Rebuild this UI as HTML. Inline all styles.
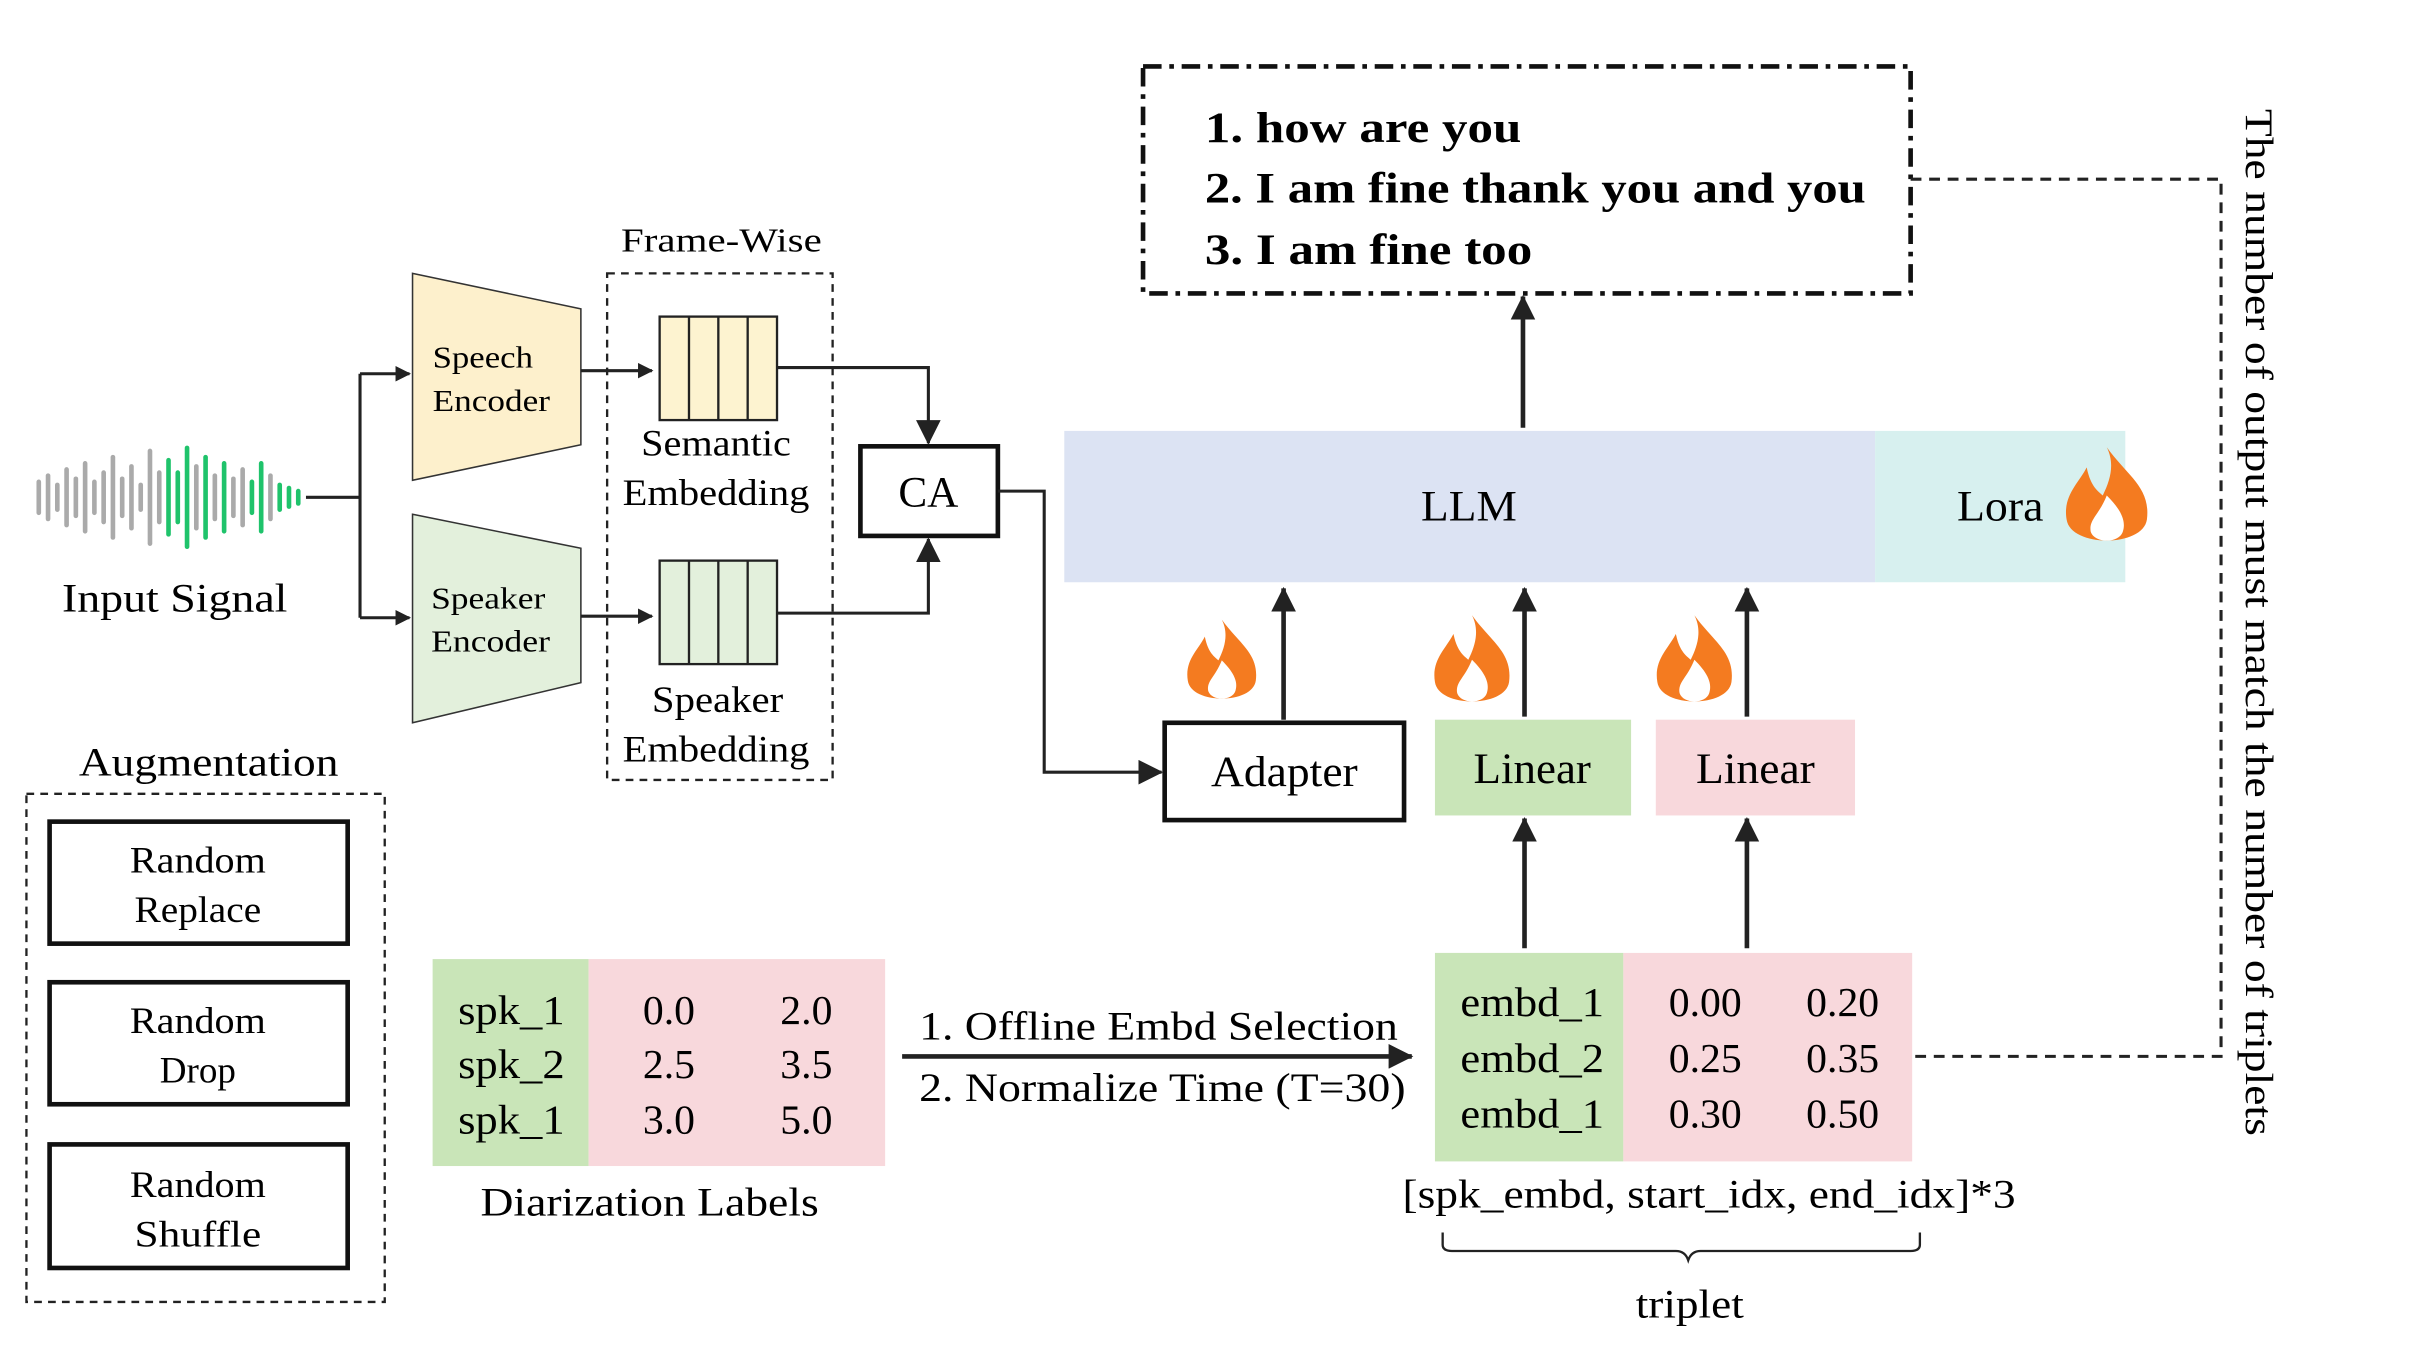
<!DOCTYPE html>
<html><head><meta charset="utf-8"><style>
html,body{margin:0;padding:0;background:#fff;}
svg{display:block;}
text{font-family:"Liberation Serif",serif;fill:#000;}
</style></head><body>
<svg width="2422" height="1356" viewBox="0 0 1568 878" xmlns="http://www.w3.org/2000/svg">
<defs>
<marker id="a" markerWidth="10" markerHeight="10" refX="9" refY="5" orient="auto" markerUnits="userSpaceOnUse"><path d="M0,0 L10,5 L0,10 z" fill="#222"/></marker>
<marker id="b" markerWidth="16" markerHeight="16" refX="15" refY="8" orient="auto" markerUnits="userSpaceOnUse"><path d="M0,0 L16,8 L0,16 z" fill="#222"/></marker>
<g id="flame"><path d="M0,-28 C10,-14 22,-8 20,8 C18,22 -18,22 -20,8 C-22,-4 -14,-10 -10,-18 C-8,-8 -4,-6 -2,-4 C2,-12 4,-20 0,-28 z" fill="#f47b20"/><path d="M0,-4 C6,2 10,8 8,14 C6,20 -6,20 -8,14 C-9,8 -4,6 0,-4 z" fill="#fff"/></g>
</defs>
<g stroke-width="3" stroke-linecap="round">
<line x1="25" y1="312" x2="25" y2="332" stroke="#aaa"/><line x1="31" y1="308" x2="31" y2="336" stroke="#aaa"/>
<line x1="37" y1="314" x2="37" y2="330" stroke="#aaa"/><line x1="43" y1="304" x2="43" y2="340" stroke="#aaa"/>
<line x1="49" y1="310" x2="49" y2="334" stroke="#aaa"/><line x1="55" y1="300" x2="55" y2="344" stroke="#aaa"/>
<line x1="61" y1="312" x2="61" y2="332" stroke="#aaa"/><line x1="67" y1="306" x2="67" y2="338" stroke="#aaa"/>
<line x1="73" y1="296" x2="73" y2="348" stroke="#aaa"/><line x1="79" y1="310" x2="79" y2="334" stroke="#aaa"/>
<line x1="85" y1="302" x2="85" y2="342" stroke="#aaa"/><line x1="91" y1="314" x2="91" y2="330" stroke="#aaa"/>
<line x1="97" y1="292" x2="97" y2="352" stroke="#aaa"/><line x1="103" y1="306" x2="103" y2="338" stroke="#aaa"/>
<line x1="109" y1="298" x2="109" y2="346" stroke="#1fc36b"/><line x1="115" y1="306" x2="115" y2="338" stroke="#1fc36b"/>
<line x1="121" y1="290" x2="121" y2="354" stroke="#1fc36b"/><line x1="127" y1="302" x2="127" y2="342" stroke="#aaa"/>
<line x1="133" y1="296" x2="133" y2="348" stroke="#1fc36b"/><line x1="139" y1="308" x2="139" y2="336" stroke="#aaa"/>
<line x1="145" y1="300" x2="145" y2="344" stroke="#1fc36b"/><line x1="151" y1="310" x2="151" y2="334" stroke="#aaa"/>
<line x1="157" y1="304" x2="157" y2="340" stroke="#aaa"/><line x1="163" y1="312" x2="163" y2="332" stroke="#1fc36b"/>
<line x1="169" y1="300" x2="169" y2="344" stroke="#1fc36b"/><line x1="175" y1="308" x2="175" y2="336" stroke="#aaa"/>
<line x1="181" y1="314" x2="181" y2="330" stroke="#1fc36b"/><line x1="187" y1="316" x2="187" y2="328" stroke="#1fc36b"/>
<line x1="193" y1="318" x2="193" y2="326" stroke="#1fc36b"/>
</g>
<text x="40" y="396" font-size="26" textLength="146" lengthAdjust="spacingAndGlyphs">Input Signal</text>
<g stroke="#222" stroke-width="2" fill="none">
<path d="M198,322 H233 M233,242 V400"/>
<line x1="233" y1="242" x2="265" y2="242" marker-end="url(#a)"/>
<line x1="233" y1="400" x2="265" y2="400" marker-end="url(#a)"/>
</g>
<polygon points="267,177 376,200 376,288 267,311" fill="#fdf0cc" stroke="#333" stroke-width="1"/>
<polygon points="267,333 376,355 376,442 267,468" fill="#e3f0dc" stroke="#333" stroke-width="1"/>
<text x="280" y="238" font-size="20" textLength="65" lengthAdjust="spacingAndGlyphs">Speech</text><text x="280" y="266" font-size="20" textLength="76" lengthAdjust="spacingAndGlyphs">Encoder</text>
<text x="279" y="394" font-size="20" textLength="74" lengthAdjust="spacingAndGlyphs">Speaker</text><text x="279" y="422" font-size="20" textLength="77" lengthAdjust="spacingAndGlyphs">Encoder</text>
<rect x="393" y="177" width="146" height="328" fill="none" stroke="#222" stroke-width="1.5" stroke-dasharray="5,4"/>
<text x="402" y="163" font-size="22" textLength="130" lengthAdjust="spacingAndGlyphs">Frame-Wise</text>
<g stroke="#222" stroke-width="2" fill="none">
<line x1="376" y1="240" x2="422" y2="240" marker-end="url(#a)"/>
<line x1="376" y1="399" x2="422" y2="399" marker-end="url(#a)"/>
</g>
<g stroke="#222" stroke-width="1.5">
<rect x="427" y="205" width="76" height="67" fill="#fdf3d0"/>
<line x1="446" y1="205" x2="446" y2="272"/><line x1="465" y1="205" x2="465" y2="272"/><line x1="484" y1="205" x2="484" y2="272"/>
<rect x="427" y="363" width="76" height="67" fill="#e3f0dc"/>
<line x1="446" y1="363" x2="446" y2="430"/><line x1="465" y1="363" x2="465" y2="430"/><line x1="484" y1="363" x2="484" y2="430"/>
</g>
<g font-size="24">
<text x="415" y="295" textLength="97" lengthAdjust="spacingAndGlyphs">Semantic</text><text x="403" y="327" textLength="121" lengthAdjust="spacingAndGlyphs">Embedding</text>
<text x="422" y="461" textLength="85" lengthAdjust="spacingAndGlyphs">Speaker</text><text x="403" y="493" textLength="121" lengthAdjust="spacingAndGlyphs">Embedding</text>
</g>
<rect x="557" y="289" width="89" height="58" fill="#fff" stroke="#111" stroke-width="3"/>
<text x="601" y="328" font-size="28" text-anchor="middle">CA</text>
<g stroke="#222" stroke-width="2" fill="none">
<path d="M503,238 H601 V287" marker-end="url(#b)"/>
<path d="M503,397 H601 V349" marker-end="url(#b)"/>
<path d="M646,318 H676 V500 H752" marker-end="url(#b)"/>
</g>
<rect x="689" y="279" width="525" height="98" fill="#dce3f3"/>
<rect x="1214" y="279" width="162" height="98" fill="#d7f0ef"/>
<text x="920" y="337" font-size="28" textLength="62" lengthAdjust="spacingAndGlyphs">LLM</text>
<text x="1267" y="337" font-size="28" textLength="56" lengthAdjust="spacingAndGlyphs">Lora</text>
<use href="#flame" transform="translate(1364,326) scale(1.3)"/>
<rect x="754" y="468" width="155" height="63" fill="#fff" stroke="#111" stroke-width="3"/>
<text x="784" y="509" font-size="28" textLength="95" lengthAdjust="spacingAndGlyphs">Adapter</text>
<rect x="929" y="466" width="127" height="62" fill="#c9e5b8"/>
<rect x="1072" y="466" width="129" height="62" fill="#f8d8dc"/>
<text x="954" y="507" font-size="28" textLength="76" lengthAdjust="spacingAndGlyphs">Linear</text>
<text x="1098" y="507" font-size="28" textLength="77" lengthAdjust="spacingAndGlyphs">Linear</text>
<use href="#flame" transform="translate(791,432) scale(1.1)"/>
<use href="#flame" transform="translate(953,432) scale(1.2)"/>
<use href="#flame" transform="translate(1097,432) scale(1.2)"/>
<g stroke="#222" stroke-width="3" fill="none">
<line x1="831" y1="466" x2="831" y2="381" marker-end="url(#b)"/>
<line x1="987" y1="464" x2="987" y2="381" marker-end="url(#b)"/>
<line x1="1131" y1="464" x2="1131" y2="381" marker-end="url(#b)"/>
<line x1="987" y1="614" x2="987" y2="530" marker-end="url(#b)"/>
<line x1="1131" y1="614" x2="1131" y2="530" marker-end="url(#b)"/>
<line x1="986" y1="277" x2="986" y2="192" marker-end="url(#b)"/>
</g>
<rect x="740" y="43" width="497" height="147" fill="none" stroke="#111" stroke-width="3" stroke-dasharray="12,5,3,5"/>
<g font-size="28" font-weight="bold">
<text x="780" y="92" textLength="205" lengthAdjust="spacingAndGlyphs">1. how are you</text>
<text x="780" y="131" textLength="428" lengthAdjust="spacingAndGlyphs">2. I am fine thank you and you</text>
<text x="780" y="171" textLength="212" lengthAdjust="spacingAndGlyphs">3. I am fine too</text>
</g>
<path d="M1237,116 H1438 V684 H1240" fill="none" stroke="#222" stroke-width="2" stroke-dasharray="7,5"/>
<text transform="translate(1454,403) rotate(90)" font-size="25" text-anchor="middle" textLength="665" lengthAdjust="spacingAndGlyphs">The number of output must match the number of triplets</text>
<rect x="929" y="617" width="122" height="135" fill="#c9e5b8"/>
<rect x="1051" y="617" width="187" height="135" fill="#f8d8dc"/>
<g font-size="27" text-anchor="middle">
<text x="992" y="658" textLength="93" lengthAdjust="spacingAndGlyphs">embd_1</text><text x="992" y="694" textLength="93" lengthAdjust="spacingAndGlyphs">embd_2</text><text x="992" y="730" textLength="93" lengthAdjust="spacingAndGlyphs">embd_1</text>
<text x="1104" y="658">0.00</text><text x="1104" y="694">0.25</text><text x="1104" y="730">0.30</text>
<text x="1193" y="658">0.20</text><text x="1193" y="694">0.35</text><text x="1193" y="730">0.50</text>
</g>
<text x="908" y="782" font-size="26" textLength="397" lengthAdjust="spacingAndGlyphs">[spk_embd, start_idx, end_idx]*3</text>
<path d="M934,798 V806 Q934,810 940,810 H1085 Q1091,810 1093,816 Q1095,810 1101,810 H1237 Q1243,810 1243,806 V798" fill="none" stroke="#222" stroke-width="1.5"/>
<text x="1059" y="853" font-size="26" textLength="70" lengthAdjust="spacingAndGlyphs">triplet</text>
<rect x="280" y="621" width="101" height="134" fill="#c9e5b8"/>
<rect x="381" y="621" width="192" height="134" fill="#f8d8dc"/>
<g font-size="27" text-anchor="middle">
<text x="331" y="663" textLength="69" lengthAdjust="spacingAndGlyphs">spk_1</text><text x="331" y="698" textLength="69" lengthAdjust="spacingAndGlyphs">spk_2</text><text x="331" y="734" textLength="69" lengthAdjust="spacingAndGlyphs">spk_1</text>
<text x="433" y="663">0.0</text><text x="433" y="698">2.5</text><text x="433" y="734">3.0</text>
<text x="522" y="663">2.0</text><text x="522" y="698">3.5</text><text x="522" y="734">5.0</text>
</g>
<text x="311" y="787" font-size="26" textLength="219" lengthAdjust="spacingAndGlyphs">Diarization Labels</text>
<line x1="584" y1="684" x2="914" y2="684" stroke="#222" stroke-width="3" marker-end="url(#b)"/>
<text x="595" y="673" font-size="26" textLength="310" lengthAdjust="spacingAndGlyphs">1. Offline Embd Selection</text>
<text x="595" y="713" font-size="26" textLength="315" lengthAdjust="spacingAndGlyphs">2. Normalize Time (T=30)</text>
<text x="51" y="502" font-size="26" textLength="168" lengthAdjust="spacingAndGlyphs">Augmentation</text>
<rect x="17" y="514" width="232" height="329" fill="none" stroke="#222" stroke-width="1.5" stroke-dasharray="5,4"/>
<g fill="#fff" stroke="#111" stroke-width="3">
<rect x="32" y="532" width="193" height="79"/><rect x="32" y="636" width="193" height="79"/><rect x="32" y="741" width="193" height="80"/>
</g>
<g font-size="24" text-anchor="middle">
<text x="128" y="565" textLength="88" lengthAdjust="spacingAndGlyphs">Random</text><text x="128" y="597" textLength="82" lengthAdjust="spacingAndGlyphs">Replace</text>
<text x="128" y="669" textLength="88" lengthAdjust="spacingAndGlyphs">Random</text><text x="128" y="701">Drop</text>
<text x="128" y="775" textLength="88" lengthAdjust="spacingAndGlyphs">Random</text><text x="128" y="807" textLength="82" lengthAdjust="spacingAndGlyphs">Shuffle</text>
</g>
</svg>
</body></html>
